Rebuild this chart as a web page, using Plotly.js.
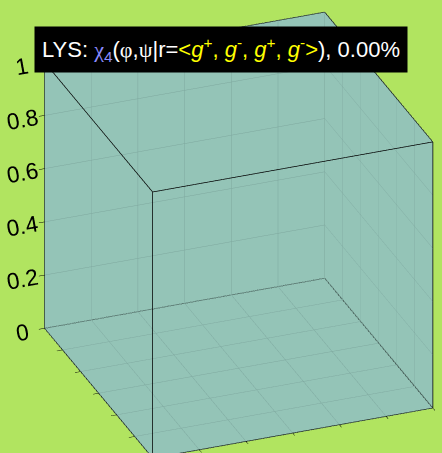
<!DOCTYPE html>
<html><head><meta charset="utf-8">
<script src="https://cdn.plot.ly/plotly-3.0.1.min.js"></script>
<style>html,body{margin:0;padding:0;background:#b1e460;overflow:hidden}</style>
</head><body><div id="chart" style="width:442px;height:453px"></div>
<script>
// ---- data ----
const phiTicks = [-180, -120, -60, 0, 60, 120, 180];
const psiTicks = [-180, -120, -60, 0, 60, 120, 180];
const zTicks = [0, 0.2, 0.4, 0.6, 0.8, 1];
const zTickLabels = ['0', '0.2', '0.4', '0.6', '0.8', '1'];
const residue = 'LYS';
const chiIndex = 4;
const rotamerSigns = ['+', '-', '+', '-'];
const percentValue = 0.00;
// frequency over the phi/psi grid: all zero (0.00%)
const freq = [
  [0, 0, 0, 0, 0, 0, 0],
  [0, 0, 0, 0, 0, 0, 0],
  [0, 0, 0, 0, 0, 0, 0],
  [0, 0, 0, 0, 0, 0, 0],
  [0, 0, 0, 0, 0, 0, 0],
  [0, 0, 0, 0, 0, 0, 0],
  [0, 0, 0, 0, 0, 0, 0]
];

// ---- styles ----
const lime = 'rgb(177,228,96)';
const teal = 'rgb(148,196,183)';
const gridCol = 'rgb(126,168,158)';

const az = -21.1 * Math.PI / 180, el = 27.6 * Math.PI / 180;
const dist = 1.8;
const zoomRatio = 1.326;
const dir = [Math.sin(az) * Math.cos(el), -Math.cos(az) * Math.cos(el), Math.sin(el)];
const R = [Math.cos(az), Math.sin(az), 0];
const U = [-Math.sin(el) * Math.sin(az), Math.sin(el) * Math.cos(az), Math.cos(el)];
const shiftR = -0.078, shiftU = 0.038;
const ctr = [0, 1, 2].map(i => shiftR * R[i] + shiftU * U[i]);
const eye = { x: dist * dir[0] + ctr[0], y: dist * dir[1] + ctr[1], z: dist * dir[2] + ctr[2] };
const center = { x: ctr[0], y: ctr[1], z: ctr[2] };

// axis box edges built from the axis ranges
const xr = [phiTicks[0], phiTicks[phiTicks.length - 1]];
const yr = [psiTicks[0], psiTicks[psiTicks.length - 1]];
const zr = [zTicks[0], zTicks[zTicks.length - 1]];
const bx = [], by = [], bz = [];
function edge(p, q) { bx.push(p[0], q[0], null); by.push(p[1], q[1], null); bz.push(p[2], q[2], null); }
for (const a of [0, 1]) for (const b of [0, 1]) {
  edge([xr[0], yr[a], zr[b]], [xr[1], yr[a], zr[b]]);
  edge([xr[a], yr[0], zr[b]], [xr[a], yr[1], zr[b]]);
  edge([xr[a], yr[b], zr[0]], [xr[a], yr[b], zr[1]]);
}

const greek = s => '<span style="font-family:Liberation Serif">' + s + '</span>';
const rot = rotamerSigns.map(s => '<i>g</i><sup>' + s + '</sup>').join(', ');
const titleText = residue + ': <span style="color:rgb(140,140,255)">' + greek('χ') + '<sub>' + chiIndex + '</sub></span>(' +
  greek('φ') + ',' + greek('ψ') + '|r=' +
  '<span style="color:rgb(255,255,0)">&lt;' + rot + '&gt;</span>), ' + percentValue.toFixed(2) + '%';

const axisCommon = {
  showbackground: true,
  backgroundcolor: teal,
  showgrid: true,
  gridcolor: gridCol,
  gridwidth: 1,
  showline: false,
  zeroline: false,
  showspikes: false,
  ticks: 'outside',
  ticklen: 6,
  tickcolor: 'black',
  title: { text: '' }
};

const data = [{
  type: 'surface',
  x: phiTicks, y: psiTicks, z: freq,
  opacity: 0, showscale: false,
  colorscale: [[0, teal], [1, teal]],
  hoverinfo: 'skip'
}, {
  type: 'scatter3d', mode: 'lines',
  x: bx, y: by, z: bz,
  line: { color: 'black', width: 1.5 },
  hoverinfo: 'skip', showlegend: false, connectgaps: false
}];

const layout = {
  width: 442, height: 453,
  margin: { l: 0, r: 0, t: 0, b: 0 },
  paper_bgcolor: lime,
  plot_bgcolor: lime,
  showlegend: false,
  font: { family: 'Liberation Sans, Arial, sans-serif', color: 'black' },
  scene: {
    domain: { x: [0, 1], y: [0, 1] },
    bgcolor: lime,
    aspectmode: 'manual',
    aspectratio: { x: zoomRatio, y: zoomRatio, z: zoomRatio },
    camera: {
      eye: eye,
      center: center,
      up: { x: 0, y: 0, z: 1 },
      projection: { type: 'orthographic' }
    },
    xaxis: Object.assign({}, axisCommon, { range: xr, tickvals: phiTicks, showticklabels: false }),
    yaxis: Object.assign({}, axisCommon, { range: yr, tickvals: psiTicks, showticklabels: false }),
    zaxis: Object.assign({}, axisCommon, { range: zr, tickvals: zTicks, ticktext: zTickLabels, showticklabels: true,
      tickfont: { size: 16.5, color: 'black', family: 'Liberation Sans, Arial, sans-serif' } })
  },
  annotations: [{
    xref: 'paper', yref: 'paper', x: 0.5, y: 0.891,
    xanchor: 'center', yanchor: 'middle',
    text: titleText, showarrow: false,
    font: { size: 22, color: 'white', family: 'Liberation Sans, Arial, sans-serif' },
    bgcolor: 'black', borderpad: 7
  }]
};

Plotly.newPlot('chart', data, layout, { displayModeBar: false });
</script></body></html>
